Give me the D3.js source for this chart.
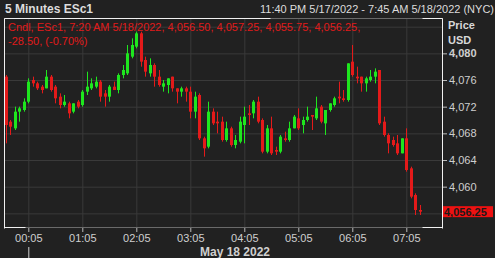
<!DOCTYPE html>
<html>
  <head>
    <meta charset="utf-8">
    <title></title>
  </head>
  <style>
  body{
      margin:0;
      background-color:#212121;
      font-family:"Liberation Sans", Arial, sans-serif;
    }
    svg { display:block }
    .grid line { stroke:#3a3a3a; stroke-width:1 }
    .grid path { display:none }
    .axis text { fill:#cfcfcf; font-size:11px }
    .axis path { display:none }
    .axis .tick line { stroke:#bdbdbd }
  </style>
  <script src="https://d3js.org/d3.v7.min.js"></script>
  <body>
    <script>
    // 5 minute candles, ESc1, starting 23:40 on 5/17/2022
    var opens  = [4076.5,4069.75,4068.75,4071.25,4071.5,4072.75,4076,4075.5,4075,4074.75,
                  4076.5,4075,4073.5,4072.25,4072.5,4071.25,4072.75,4072.25,4074.25,4074.75,
                  4075,4075.75,4074,4073.5,4075,4074.5,4076.75,4077,4079.5,4081,
                  4083,4079,4077,4078.25,4076.5,4075,4075.25,4076.5,4074.75,4074.25,
                  4074.75,4074.25,4071.25,4073.75,4067.25,4066,4071.25,4069.75,4069.75,4067,
                  4068.75,4066.25,4066.75,4069.25,4071,4071,4072.75,4070,4065.25,4068.75,
                  4065.5,4065.25,4067.25,4067,4068.75,4070.25,4069.25,4070,4070.75,4070.25,
                  4072,4069.5,4071.5,4072.25,4073.5,4073.25,4073,4078.75,4076.5,4076.5,
                  4075.5,4076,4076.5,4077.5,4069.75,4067.75,4067,4066.5,4065,4067.25,
                  4062.75,4058.75,4056.5]
    var highs  = [4076.75,4070,4072,4072,4073.25,4076.25,4076.5,4075.75,4075.25,4077.5,
                  4076.75,4075.25,4074,4073.75,4072.75,4072.5,4073,4074.5,4077.25,4076.25,
                  4076.5,4076,4074.5,4075.25,4075.75,4077,4078.25,4081.25,4082.25,4083.25,
                  4083.25,4079.5,4079.25,4078.5,4077.5,4076,4076.25,4076.5,4074.75,4075,
                  4075,4075,4074.25,4074,4067.5,4072.75,4071.75,4071.25,4070.5,4069.75,
                  4069,4067.75,4070.5,4072,4072.25,4073,4073.5,4070.25,4069.25,4070.5,
                  4066,4067.75,4068.25,4069.75,4070.75,4071.75,4070.5,4072,4070.75,4073.5,
                  4072.25,4071.5,4072.5,4073.5,4075.75,4074.5,4078.5,4081.25,4078,4076.5,
                  4076.5,4077.5,4077.75,4077.5,4070.5,4068,4067.5,4067.75,4067.25,4068.75,
                  4063,4059,4057.25]
    var lows   = [4066.5,4067.75,4068.5,4069.75,4071.25,4072.5,4075,4074.5,4074,4074.75,
                  4074.25,4072.5,4071.75,4072,4070.25,4071,4071.75,4072,4073.75,4074.5,
                  4074.75,4072.75,4072,4072.75,4074.5,4074,4076.25,4076.75,4079.25,4080.75,
                  4078,4076.5,4076.5,4075,4075,4074.25,4074,4074.25,4072.5,4073.5,
                  4072.75,4070.25,4070.25,4067,4064.5,4065.75,4069.25,4068,4066.75,4066.75,
                  4066,4065.75,4066.5,4066.5,4069.25,4070.25,4069.5,4065,4065,4064.75,
                  4064.75,4065,4066.75,4066.75,4068.75,4068.5,4068,4069.75,4068.5,4070,
                  4069.5,4067.75,4071.25,4072,4072.5,4072.75,4072.75,4076.5,4075.5,4074.25,
                  4074.25,4075.75,4075.5,4069.25,4067.5,4065,4066,4064.75,4065,4062.25,
                  4058.25,4055.75,4055.75]
    var closes = [4069.25,4069,4071.25,4071.75,4072.75,4075.75,4075.5,4074.75,4074.5,4076.5,
                  4074.5,4073.25,4072.25,4072.75,4071,4072.5,4072,4074.25,4075,4075.5,
                  4075.75,4073.5,4073.5,4075,4074.5,4076.75,4077.5,4080,4081.25,4083,
                  4078.75,4077.25,4078.25,4076.5,4075.25,4075.5,4076.25,4074.75,4074.25,4074.75,
                  4074.25,4071.25,4073.5,4067.25,4065.75,4071.25,4069.5,4069.5,4067,4068.75,
                  4066.25,4067,4069.75,4070.5,4070.75,4072.75,4069.75,4065.25,4068.75,4065,
                  4065.25,4067.5,4067,4068.75,4070.5,4068.75,4070,4070.5,4070.5,4071.75,
                  4069.75,4071.5,4072.5,4073.25,4073.25,4073,4078.5,4076.75,4076.25,4075.5,
                  4076.25,4076.5,4077.25,4069.5,4067.75,4066.5,4066.25,4065,4067.25,4062.5,
                  4058.5,4056.5,4056.25]

    var xTickLabels = ["00:05","01:05","02:05","03:05","04:05","05:05","06:05","07:05"]
    var yTicks = [4056,4060,4064,4068,4072,4076,4080,4084]
    var yLabels = [4060,4064,4068,4072,4076,4080]
    var lastPrice = 4056.25

    var W = 495, H = 258
    var plot = { left:4, top:18, right:442, bottom:228 }

    var start = Date.UTC(2022,4,17,23,40)
    var candles = opens.map(function(o, i){
        return { t: new Date(start + i*5*60000), o:o, h:highs[i], l:lows[i], c:closes[i] }
    })

    var svg = d3.select("body").append("svg")
                .attr("width", W).attr("height", H)

    var xScale = d3.scaleUtc()
        .domain([new Date(Date.UTC(2022,4,17,23,38)), new Date(Date.UTC(2022,4,18,7,45))])
        .range([plot.left, plot.right + 0.3])

    var yScale = d3.scaleLinear()
        .domain([4053.8, 4085.3])
        .range([plot.bottom, plot.top])

    var xTicks = xTickLabels.map(function(s){
        var p = s.split(":")
        return new Date(Date.UTC(2022,4,18,+p[0],+p[1]))
    })

    //网格
    svg.append("g").attr("class","grid")
        .attr("transform","translate(0," + plot.bottom + ")")
        .call(d3.axisBottom(xScale).tickValues(xTicks).tickSize(-(plot.bottom-plot.top)).tickFormat(""))
    svg.append("g").attr("class","grid")
        .attr("transform","translate(" + plot.left + ",0)")
        .call(d3.axisRight(yScale).tickValues(yTicks).tickSize(plot.right-plot.left).tickFormat(""))

    //蜡烛
    var bw = 3
    var g = svg.append("g")
    g.selectAll("line").data(candles).enter().append("line")
        .attr("x1", function(d){ return Math.round(xScale(d.t)) + 0.5 })
        .attr("x2", function(d){ return Math.round(xScale(d.t)) + 0.5 })
        .attr("y1", function(d){ return yScale(d.h) })
        .attr("y2", function(d){ return yScale(d.l) })
        .attr("stroke", function(d){ return d.c >= d.o ? "#1ee61e" : "#e41a1a" })
        .attr("stroke-width", 1)
    g.selectAll("rect").data(candles).enter().append("rect")
        .attr("x", function(d){ return Math.round(xScale(d.t)) - 1 })
        .attr("width", bw)
        .attr("y", function(d){ return yScale(Math.max(d.o, d.c)) })
        .attr("height", function(d){ return Math.max(1, yScale(Math.min(d.o, d.c)) - yScale(Math.max(d.o, d.c))) })
        .attr("fill", function(d){ return d.c >= d.o ? "#1ee61e" : "#e41a1a" })

    //边框
    svg.append("rect")
        .attr("x", plot.left + 0.5).attr("y", plot.top + 0.5)
        .attr("width", plot.right - plot.left).attr("height", plot.bottom - plot.top - 1)
        .attr("fill","none").attr("stroke","#6a6a6a")
    var white = [
        [plot.left, plot.top, plot.left, plot.bottom],
        [plot.right, plot.top, plot.right, plot.bottom],
        [plot.left, plot.top, 270, plot.top],
        [422, plot.top, plot.right, plot.top],
        [plot.left, plot.bottom - 1, 25, plot.bottom - 1],
        [422, plot.bottom - 1, plot.right, plot.bottom - 1]
    ]
    svg.append("g").selectAll("line").data(white).enter().append("line")
        .attr("x1", function(d){ return d[0] + 0.5 }).attr("y1", function(d){ return d[1] + 0.5 })
        .attr("x2", function(d){ return d[2] + 0.5 }).attr("y2", function(d){ return d[3] + 0.5 })
        .attr("stroke","#f0f0f0")

    //x轴
    var xAxis = svg.append("g").attr("class","axis")
        .attr("transform","translate(0," + plot.bottom + ")")
        .call(d3.axisBottom(xScale).tickValues(xTicks).tickSize(4).tickPadding(2)
              .tickFormat(d3.utcFormat("%H:%M")))
    svg.append("text")
        .attr("x", 235).attr("y", 256)
        .attr("text-anchor","middle")
        .attr("fill","#cfcfcf").attr("font-size","12px").attr("font-weight","bold")
        .text("May 18 2022")
    svg.append("line")
        .attr("x1", xScale(xTicks[0]) + 0.5).attr("x2", xScale(xTicks[0]) + 0.5)
        .attr("y1", 247).attr("y2", H)
        .attr("stroke","#d0d0d0")

    //y轴
    var yAxis = svg.append("g").attr("class","axis")
        .attr("transform","translate(" + (plot.right + 1) + ",0)")
        .call(d3.axisRight(yScale).tickValues(yLabels).tickSize(4).tickPadding(2)
              .tickFormat(d3.format(",d")))
    yAxis.selectAll(".tick text")
        .attr("font-weight", function(d){ return d == 4080 ? "bold" : "normal" })
        .attr("fill", function(d){ return d == 4080 ? "#e6e6e6" : "#cfcfcf" })

    svg.append("text").attr("x", 448).attr("y", 29)
        .attr("fill","#d8d8d8").attr("font-size","11px").attr("font-weight","bold").text("Price")
    svg.append("text").attr("x", 448).attr("y", 44)
        .attr("fill","#d8d8d8").attr("font-size","11px").attr("font-weight","bold").text("USD")

    //最新价
    var py = yScale(lastPrice)
    svg.append("rect").attr("x", 443).attr("y", py - 5.5)
        .attr("width", 50).attr("height", 11).attr("fill","#ee1111")
    svg.append("text").attr("x", 444).attr("y", py)
        .attr("dy","0.36em")
        .attr("fill","#1a1a1a").attr("font-size","11px").attr("font-weight","bold")
        .text(d3.format(",.2f")(lastPrice))

    //标题
    svg.append("text").attr("x", 5).attr("y", 13)
        .attr("fill","#dcdcdc").attr("font-size","12px").attr("font-weight","bold")
        .text("5 Minutes ESc1")
    svg.append("text").attr("x", 494).attr("y", 13)
        .attr("text-anchor","end")
        .attr("fill","#dcdcdc").attr("font-size","11px")
        .text("11:40 PM 5/17/2022 - 7:45 AM 5/18/2022 (NYC)")

    //图例
    var last = candles[candles.length - 1]
    var fmt = d3.format(",.2f")
    svg.append("text").attr("x", 8).attr("y", 31)
        .attr("fill","#e01a1a").attr("font-size","11px")
        .text("Cndl, ESc1, 7:20 AM 5/18/2022, " + [last.o, last.h, last.l, last.c].map(fmt).join(", ") + ",")
    svg.append("text").attr("x", 8).attr("y", 45)
        .attr("fill","#e01a1a").attr("font-size","11px")
        .text("-28.50, (-0.70%)")
    </script>
  </body>
</html>
